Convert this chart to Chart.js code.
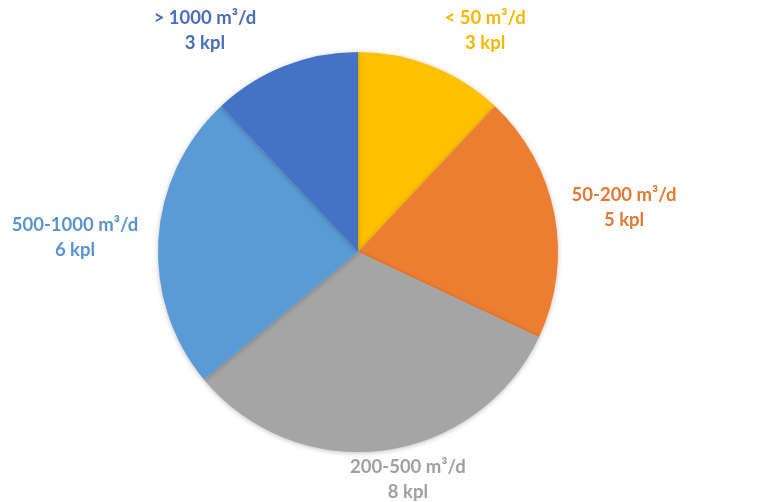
<!DOCTYPE html>
<html>
<head>
<meta charset="utf-8">
<script src="https://cdn.jsdelivr.net/npm/chart.js@4/dist/chart.umd.min.js"></script>
<style>
html,body{margin:0;padding:0;background:#fff;}
#wrap{width:771px;height:502px;position:relative;}
</style>
</head>
<body>
<div id="wrap"><canvas id="c" width="771" height="502"></canvas></div>
<script>
const categories = ['< 50 m³/d', '50-200 m³/d', '200-500 m³/d', '500-1000 m³/d', '> 1000 m³/d'];
const counts = [3, 5, 8, 6, 3];
const unit = 'kpl';
const sliceColors = ['#FFC000', '#ED7D31', '#A5A5A5', '#5B9BD5', '#4472C4'];
const labelColors = ['#F2B800', '#E07A36', '#A0A0A0', '#5B93CC', '#4A6DB8'];
// label placement: angle (deg, clockwise from top) and distance in radii
const labelAngles = [29.8, 80.4, 167.6, 273.0, 325.4];
const labelDist = [1.279, 1.349, 1.162, 1.417, 1.348];

const labelPlugin = {
  id: 'outerLabels',
  afterDatasetsDraw(chart) {
    const ctx = chart.ctx;
    const meta = chart.getDatasetMeta(0);
    ctx.save();
    ctx.font = 'bold 18.5px Lato';
    ctx.textAlign = 'center';
    ctx.textBaseline = 'middle';
    meta.data.forEach((arc, i) => {
      const r = arc.outerRadius * labelDist[i];
      const a = labelAngles[i] * Math.PI / 180;
      const x = arc.x + r * Math.sin(a);
      const y = arc.y - r * Math.cos(a);
      ctx.fillStyle = labelColors[i];
      ctx.fillText(categories[i], x, y - 12);
      ctx.fillText(counts[i] + ' ' + unit, x, y + 13);
    });
    ctx.restore();
  }
};

const shadowPlugin = {
  id: 'pieShadow',
  beforeDatasetsDraw(chart) {
    const ctx = chart.ctx;
    ctx.save();
    ctx.shadowColor = 'rgba(0,0,0,0.25)';
    ctx.shadowBlur = 5;
    ctx.shadowOffsetX = 0;
    ctx.shadowOffsetY = 1;
  },
  afterDatasetsDraw(chart) {
    chart.ctx.restore();
  }
};

new Chart(document.getElementById('c'), {
  type: 'pie',
  data: {
    labels: categories,
    datasets: [{
      data: counts,
      backgroundColor: sliceColors,
      borderWidth: 0
    }]
  },
  options: {
    responsive: false,
    animation: false,
    layout: { padding: { top: 52, bottom: 50, left: 158, right: 213 } },
    plugins: {
      legend: { display: false },
      tooltip: { enabled: false }
    }
  },
  plugins: [shadowPlugin, labelPlugin]
});
</script>
</body>
</html>
